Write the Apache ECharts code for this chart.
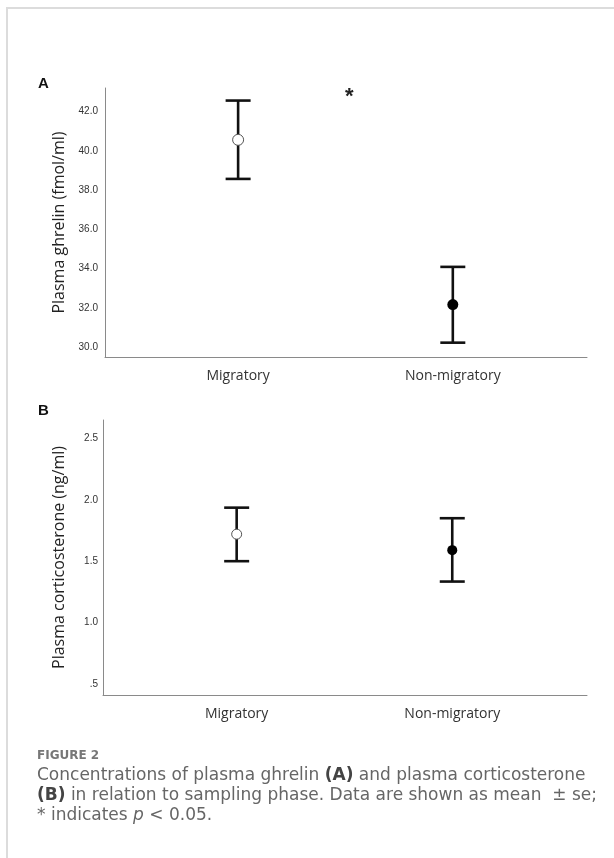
<!DOCTYPE html>
<html><head><meta charset="utf-8">
<script src="https://cdn.jsdelivr.net/npm/echarts@6/dist/echarts.min.js"></script>
<style>html,body{margin:0;padding:0;background:#fff}#c{width:614px;height:858px}</style>
</head><body><div id="c"></div>
<script>
const categories = ['Migratory', 'Non-migratory'];
// Panel A: plasma ghrelin (fmol/ml)
const ghrelinMean = [40.56, 32.17];
const ghrelinLow = [38.57, 30.23];
const ghrelinHigh = [42.56, 34.09];
const ghrelinTicks = [30, 32, 34, 36, 38, 40, 42];
// Panel B: plasma corticosterone (ng/ml)
const corticoMean = [1.72, 1.59];
const corticoLow = [1.50, 1.334];
const corticoHigh = [1.936, 1.85];
const corticoTicks = [0.5, 1.0, 1.5, 2.0, 2.5];

const chart = echarts.init(document.getElementById('c'), null, {renderer: 'canvas'});
const idx = categories.map((_, i) => i);

function errRender(params, api) {
  const x = api.value(0), lo = api.value(1), hi = api.value(2);
  const pLo = api.coord([x, lo]), pHi = api.coord([x, hi]);
  const w = 12.5;
  const st = {stroke: '#111', lineWidth: 2.6};
  return {type: 'group', children: [
    {type: 'line', shape: {x1: pHi[0], y1: pHi[1], x2: pLo[0], y2: pLo[1]}, style: st},
    {type: 'line', shape: {x1: pHi[0] - w, y1: pHi[1], x2: pHi[0] + w, y2: pHi[1]}, style: st},
    {type: 'line', shape: {x1: pLo[0] - w, y1: pLo[1], x2: pLo[0] + w, y2: pLo[1]}, style: st}
  ]};
}

const xAxisBase = (gi) => ({
  gridIndex: gi, type: 'value', min: -0.62, max: 1.625,
  axisLine: {show: true, onZero: false, lineStyle: {color: '#8a8a8a', width: 1}},
  axisTick: {show: false}, splitLine: {show: false},
  axisLabel: {customValues: idx, formatter: v => categories[Math.round(v)] || '',
    color: '#333', fontSize: 14, fontFamily: 'Open Sans', margin: 12}
});

const pointItem = (i) => i === 0
  ? {color: '#fff', borderColor: '#555', borderWidth: 1, opacity: 1}
  : {color: '#000', opacity: 1};

const capBase = {fontSize: 17, fill: '#666', fontFamily: 'DejaVu Sans'};
const boldRich = {b: {fontSize: 17, fill: '#444', fontWeight: 'bold', fontFamily: 'DejaVu Sans'}};

const option = {
  backgroundColor: '#fff',
  animation: false,
  grid: [
    {left: 105, top: 88, right: 27, height: 269},
    {left: 103, top: 420, right: 27, height: 275}
  ],
  xAxis: [xAxisBase(0), xAxisBase(1)],
  yAxis: [
    {gridIndex: 0, type: 'value', min: 29.5, max: 43.2,
      name: 'Plasma ghrelin (fmol/ml)', nameLocation: 'middle', nameGap: 38,
      nameTextStyle: {color: '#222', fontSize: 16, fontFamily: 'Open Sans'},
      axisLine: {show: true, onZero: false, lineStyle: {color: '#8a8a8a', width: 1}},
      axisTick: {show: false}, splitLine: {show: false},
      axisLabel: {customValues: ghrelinTicks, formatter: v => v.toFixed(1),
        color: '#333', fontSize: 10, fontFamily: 'Liberation Sans', margin: 7}},
    {gridIndex: 1, type: 'value', min: 0.41, max: 2.65,
      name: 'Plasma corticosterone (ng/ml)', nameLocation: 'middle', nameGap: 36,
      nameTextStyle: {color: '#222', fontSize: 16, fontFamily: 'Open Sans'},
      axisLine: {show: true, onZero: false, lineStyle: {color: '#8a8a8a', width: 1}},
      axisTick: {show: false}, splitLine: {show: false},
      axisLabel: {customValues: corticoTicks, formatter: v => (v === 0.5 ? '.5' : v.toFixed(1)),
        color: '#333', fontSize: 10, fontFamily: 'Liberation Sans', margin: 5}}
  ],
  series: [
    {type: 'custom', xAxisIndex: 0, yAxisIndex: 0, renderItem: errRender,
      encode: {x: 0, y: [1, 2]}, data: idx.map(i => [i, ghrelinLow[i], ghrelinHigh[i]]), z: 2},
    {type: 'scatter', xAxisIndex: 0, yAxisIndex: 0, symbolSize: 11, z: 3,
      data: idx.map(i => ({value: [i, ghrelinMean[i]], itemStyle: pointItem(i)}))},
    {type: 'custom', xAxisIndex: 1, yAxisIndex: 1, renderItem: errRender,
      encode: {x: 0, y: [1, 2]}, data: idx.map(i => [i, corticoLow[i], corticoHigh[i]]), z: 2},
    {type: 'scatter', xAxisIndex: 1, yAxisIndex: 1, symbolSize: 10, z: 3,
      data: idx.map(i => ({value: [i, corticoMean[i]], itemStyle: pointItem(i)}))}
  ],
  graphic: [
    {type: 'rect', shape: {x: 7, y: 8, width: 700, height: 900}, silent: true,
      style: {fill: 'none', stroke: '#dcdcdc', lineWidth: 2}},
    {type: 'text', left: 38, top: 76, style: {text: 'A', fontSize: 15, fontWeight: 'bold', fill: '#111', fontFamily: 'Liberation Sans'}},
    {type: 'text', left: 38, top: 403, style: {text: 'B', fontSize: 15, fontWeight: 'bold', fill: '#111', fontFamily: 'Liberation Sans'}},
    {type: 'text', left: 345, top: 86, style: {text: '*', fontSize: 22, fontWeight: 'bold', fill: '#222', fontFamily: 'Liberation Sans'}},
    {type: 'text', left: 37, top: 750, style: {text: 'FIGURE 2', fontSize: 12, fontWeight: 'bold', fill: '#777', fontFamily: 'DejaVu Sans'}},
    {type: 'text', left: 37, top: 767, style: Object.assign({
      text: 'Concentrations of plasma ghrelin {b|(A)} and plasma corticosterone', rich: boldRich}, capBase)},
    {type: 'text', left: 37, top: 787, style: Object.assign({
      text: '{b|(B)} in relation to sampling phase. Data are shown as mean  ± se;', rich: boldRich}, capBase)},
    {type: 'text', left: 37, top: 807, style: Object.assign({
      text: '* indicates {i|p} < 0.05.',
      rich: {i: {fontSize: 17, fill: '#666', fontStyle: 'italic', fontFamily: 'DejaVu Sans'}}}, capBase)}
  ]
};
chart.setOption(option);
</script></body></html>
